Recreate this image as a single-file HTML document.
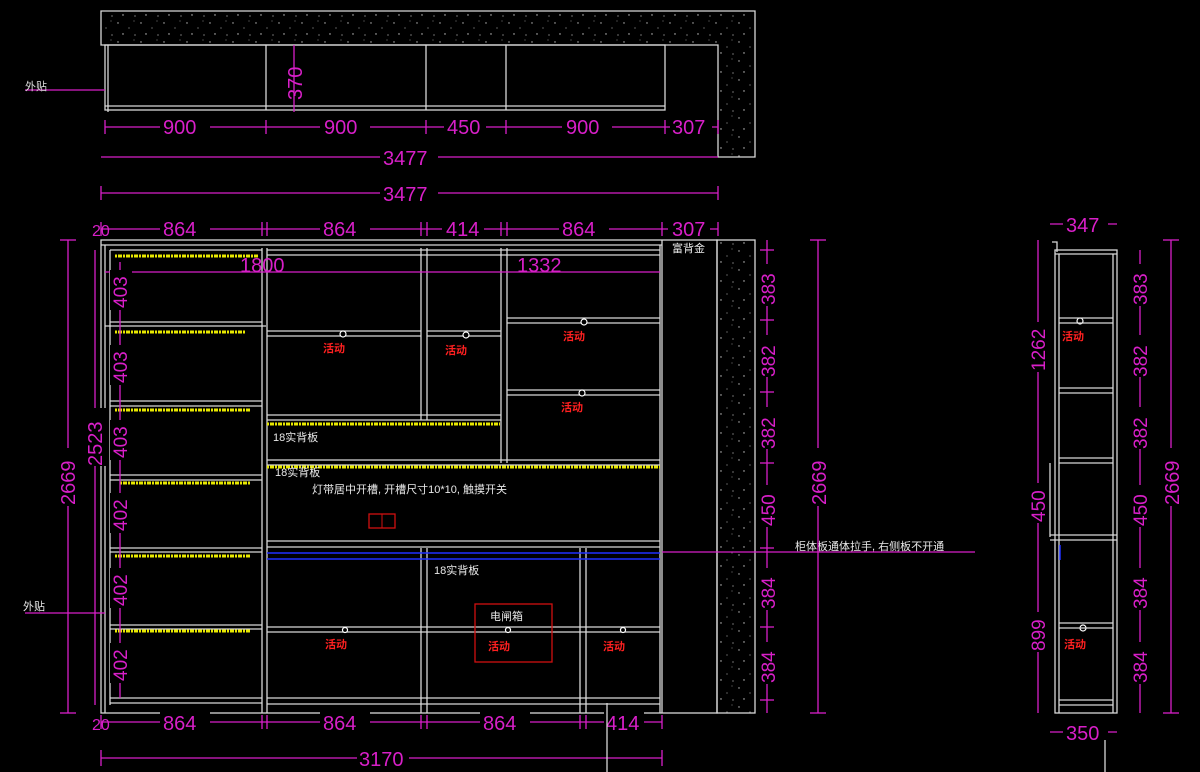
<!DOCTYPE html>
<html><head><meta charset="utf-8"><style>
html,body{margin:0;padding:0;background:#000;width:1200px;height:772px;overflow:hidden}
svg{display:block}
.w{stroke:#d8d8d8;stroke-width:1.3;fill:none}
.m{stroke:#d81fc8;stroke-width:1.3;fill:none}
.d{fill:#d81fc8;font-family:"Liberation Sans",sans-serif;font-size:20px}
.t{fill:#e8e8e8;font-family:"Liberation Sans","Noto Sans CJK SC",sans-serif;font-size:11px}
.r{fill:#ff2020;font-family:"Liberation Sans","Noto Sans CJK SC",sans-serif;font-size:11px;font-weight:bold}
.y{stroke:#e8e800;stroke-width:3;stroke-dasharray:2 1 4 1;fill:none}
.b{stroke:#2030ff;stroke-width:1.5}
</style></head><body>
<svg width="1200" height="772" viewBox="0 0 1200 772" xmlns="http://www.w3.org/2000/svg">
<defs>
<pattern id="sp" width="23" height="19" patternUnits="userSpaceOnUse">
<rect width="23" height="19" fill="#000"/>
<circle cx="3" cy="4" r="0.7" fill="#bbb"/><circle cx="14" cy="9" r="0.6" fill="#999"/>
<circle cx="8" cy="15" r="0.7" fill="#ccc"/><circle cx="19" cy="2" r="0.5" fill="#aaa"/>
<circle cx="20" cy="16" r="0.6" fill="#bbb"/>
</pattern>
</defs>

<!-- ===== TOP PLAN ===== -->
<path d="M101,11 H755 V157 H718 V45 H101 Z" fill="url(#sp)" stroke="#d8d8d8" stroke-width="1.3"/>
<rect x="105" y="45" width="560" height="65" class="w"/>
<line x1="108" y1="45" x2="108" y2="112" class="w"/>
<line x1="105" y1="106" x2="665" y2="106" class="w"/>
<line x1="266" y1="45" x2="266" y2="110" class="w"/>
<line x1="426" y1="45" x2="426" y2="110" class="w"/>
<line x1="506" y1="45" x2="506" y2="110" class="w"/>
<line x1="25" y1="90" x2="105" y2="90" class="m"/>
<text x="25" y="90" class="t" style="fill:#e0e0e0">外贴</text>
<line x1="294" y1="45" x2="294" y2="112" class="m"/>
<text class="d" transform="translate(302,100) rotate(-90)">370</text>
<line x1="105" y1="127" x2="718" y2="127" class="m"/>
<g class="m"><line x1="105" y1="120" x2="105" y2="134"/><line x1="266" y1="120" x2="266" y2="134"/><line x1="426" y1="120" x2="426" y2="134"/><line x1="506" y1="120" x2="506" y2="134"/><line x1="665" y1="120" x2="665" y2="134"/><line x1="718" y1="120" x2="718" y2="134"/></g>
<g class="d"><rect x="160" y="117" width="50" height="20" fill="#000"/><text x="163" y="134">900</text>
<rect x="320" y="117" width="50" height="20" fill="#000"/><text x="324" y="134">900</text>
<rect x="444" y="117" width="42" height="20" fill="#000"/><text x="447" y="134">450</text>
<rect x="562" y="117" width="50" height="20" fill="#000"/><text x="566" y="134">900</text>
<rect x="670" y="117" width="42" height="20" fill="#000"/><text x="672" y="134">307</text></g>
<line x1="101" y1="157" x2="718" y2="157" class="m"/>
<rect x="380" y="147" width="58" height="20" fill="#000"/><text x="383" y="165" class="d">3477</text>
<line x1="101" y1="193" x2="718" y2="193" class="m"/>
<line x1="101" y1="186" x2="101" y2="200" class="m"/><line x1="718" y1="186" x2="718" y2="200" class="m"/>
<rect x="380" y="183" width="58" height="20" fill="#000"/><text x="383" y="201" class="d">3477</text>

<!-- dim row 864 -->
<line x1="101" y1="229" x2="718" y2="229" class="m"/>
<g class="m"><line x1="101" y1="222" x2="101" y2="236"/><line x1="262" y1="222" x2="262" y2="236"/><line x1="267" y1="222" x2="267" y2="236"/><line x1="421" y1="222" x2="421" y2="236"/><line x1="427" y1="222" x2="427" y2="236"/><line x1="501" y1="222" x2="501" y2="236"/><line x1="507" y1="222" x2="507" y2="236"/><line x1="662" y1="222" x2="662" y2="236"/><line x1="718" y1="222" x2="718" y2="236"/></g>
<g class="d"><rect x="160" y="219" width="50" height="20" fill="#000"/><text x="163" y="236">864</text>
<rect x="320" y="219" width="50" height="20" fill="#000"/><text x="323" y="236">864</text>
<rect x="442" y="219" width="42" height="20" fill="#000"/><text x="446" y="236">414</text>
<rect x="559" y="219" width="50" height="20" fill="#000"/><text x="562" y="236">864</text>
<rect x="668" y="219" width="42" height="20" fill="#000"/><text x="672" y="236">307</text>
<text x="92" y="236" style="font-size:16px">20</text></g>

<!-- ===== MAIN ELEVATION ===== -->
<rect x="717" y="240" width="38" height="473" fill="url(#sp)" stroke="#d8d8d8" stroke-width="1.3"/>
<rect x="101" y="240" width="616" height="473" class="w"/>
<line x1="101" y1="245" x2="662" y2="245" class="w"/>
<g class="w">
<line x1="105" y1="245" x2="105" y2="713"/><line x1="110" y1="250" x2="110" y2="705"/>
<line x1="262" y1="248" x2="262" y2="713"/><line x1="267" y1="248" x2="267" y2="713"/>
<line x1="421" y1="248" x2="421" y2="420"/><line x1="427" y1="248" x2="427" y2="420"/>
<line x1="501" y1="248" x2="501" y2="463"/><line x1="507" y1="248" x2="507" y2="463"/>
<line x1="421" y1="548" x2="421" y2="713"/><line x1="427" y1="548" x2="427" y2="713"/>
<line x1="580" y1="548" x2="580" y2="713"/><line x1="586" y1="548" x2="586" y2="713"/>
<line x1="660" y1="245" x2="660" y2="713"/><line x1="662" y1="240" x2="662" y2="713"/>
<!-- left col shelves -->
<path d="M110,250H262M110,322H262M105,326H266M110,401H262M110,406H262M110,475H262M110,480H262M110,548H262M110,552H262M110,625H262M110,629H262M110,698H262M110,703H262"/>
<!-- middle top -->
<path d="M267,250H660M267,255H660M267,331H421M267,336H421M427,331H501M427,336H501M267,415H501M267,420H501M507,318H660M507,323H660M507,390H660M507,395H660M267,460H660M267,465H660"/>
<!-- lower -->
<path d="M267,541H660M267,547H660M267,627H660M267,632H660M267,698H660M267,704H660"/>
</g>
<line x1="267" y1="553" x2="660" y2="553" class="b"/><line x1="267" y1="559" x2="660" y2="559" class="b"/>
<g class="y">
<line x1="115" y1="256" x2="258" y2="256"/><line x1="115" y1="332" x2="245" y2="332"/><line x1="115" y1="410" x2="250" y2="410"/>
<line x1="120" y1="483" x2="250" y2="483"/><line x1="115" y1="556" x2="250" y2="556"/><line x1="115" y1="631" x2="250" y2="631"/>
<line x1="267" y1="424" x2="500" y2="424"/><line x1="267" y1="467" x2="660" y2="467"/>
</g>
<!-- knobs -->
<g fill="#000" stroke="#fff" stroke-width="1.2">
<circle cx="343" cy="334" r="3"/><circle cx="466" cy="335" r="3"/><circle cx="584" cy="322" r="3"/><circle cx="582" cy="393" r="3"/>
<circle cx="345" cy="630" r="2.5"/><circle cx="508" cy="630" r="2.5"/><circle cx="623" cy="630" r="2.5"/>
<circle cx="1080" cy="321" r="3"/><circle cx="1083" cy="628" r="3"/>
</g>
<g class="r"><text x="323" y="352">活动</text><text x="445" y="354">活动</text><text x="563" y="340">活动</text><text x="561" y="411">活动</text>
<text x="325" y="648">活动</text><text x="488" y="650">活动</text><text x="603" y="650">活动</text>
<text x="1062" y="340">活动</text><text x="1064" y="648">活动</text></g>
<rect x="475" y="604" width="77" height="58" fill="none" stroke="#d01010" stroke-width="1.3"/>
<rect x="369" y="514" width="26" height="14" fill="none" stroke="#d01010" stroke-width="1.3"/><line x1="382" y1="514" x2="382" y2="528" stroke="#d01010"/>
<g class="t"><text x="273" y="441">18实背板</text><text x="275" y="476">18实背板</text>
<text x="312" y="493">灯带居中开槽, 开槽尺寸10*10, 触摸开关</text>
<text x="434" y="574">18实背板</text><text x="490" y="620">电闸箱</text><text x="672" y="252">富背金</text>
<text x="795" y="550">柜体板通体拉手, 右侧板不开通</text></g>

<!-- inner dims 1800/1332 -->
<line x1="105" y1="272" x2="660" y2="272" class="m"/>
<text x="240" y="272" class="d">1800</text><text x="517" y="272" class="d">1332</text>
<!-- left vertical dims -->
<line x1="68" y1="240" x2="68" y2="713" class="m"/>
<line x1="60" y1="240" x2="76" y2="240" class="m"/><line x1="60" y1="713" x2="76" y2="713" class="m"/>
<rect x="56" y="448" width="24" height="58" fill="#000"/><text class="d" transform="translate(75,505) rotate(-90)">2669</text>
<line x1="95" y1="250" x2="95" y2="705" class="m"/>
<rect x="83" y="408" width="24" height="58" fill="#000"/><text class="d" transform="translate(102,466) rotate(-90)">2523</text>
<line x1="120" y1="262" x2="120" y2="698" class="m"/>
<g class="d" style="font-size:19px">
<rect x="110" y="270" width="22" height="40" fill="#000"/><text transform="translate(127,308) rotate(-90)">403</text>
<rect x="110" y="345" width="22" height="40" fill="#000"/><text transform="translate(127,383) rotate(-90)">403</text>
<rect x="110" y="420" width="22" height="40" fill="#000"/><text transform="translate(127,458) rotate(-90)">403</text>
<rect x="110" y="493" width="22" height="40" fill="#000"/><text transform="translate(127,531) rotate(-90)">402</text>
<rect x="110" y="568" width="22" height="40" fill="#000"/><text transform="translate(127,606) rotate(-90)">402</text>
<rect x="110" y="643" width="22" height="40" fill="#000"/><text transform="translate(127,681) rotate(-90)">402</text></g>
<line x1="25" y1="613" x2="105" y2="613" class="m"/><text x="23" y="610" class="t">外贴</text>
<!-- right vertical dims -->
<line x1="767" y1="240" x2="767" y2="713" class="m"/>
<g class="m"><line x1="760" y1="250" x2="774" y2="250"/><line x1="760" y1="320" x2="774" y2="320"/><line x1="760" y1="392" x2="774" y2="392"/><line x1="760" y1="463" x2="774" y2="463"/><line x1="760" y1="548" x2="774" y2="548"/><line x1="760" y1="627" x2="774" y2="627"/><line x1="760" y1="700" x2="774" y2="700"/></g>
<g class="d" style="font-size:19px">
<rect x="757" y="264" width="22" height="42" fill="#000"/><text transform="translate(775,305) rotate(-90)">383</text>
<rect x="757" y="335" width="22" height="42" fill="#000"/><text transform="translate(775,377) rotate(-90)">382</text>
<rect x="757" y="407" width="22" height="42" fill="#000"/><text transform="translate(775,449) rotate(-90)">382</text>
<rect x="757" y="485" width="22" height="42" fill="#000"/><text transform="translate(775,526) rotate(-90)">450</text>
<rect x="757" y="568" width="22" height="42" fill="#000"/><text transform="translate(775,609) rotate(-90)">384</text>
<rect x="757" y="642" width="22" height="42" fill="#000"/><text transform="translate(775,683) rotate(-90)">384</text>
</g>
<line x1="818" y1="240" x2="818" y2="713" class="m"/>
<line x1="810" y1="240" x2="826" y2="240" class="m"/><line x1="810" y1="713" x2="826" y2="713" class="m"/>
<rect x="806" y="448" width="24" height="58" fill="#000"/><text class="d" transform="translate(826,505) rotate(-90)">2669</text>
<line x1="662" y1="552" x2="975" y2="552" class="m"/>
<!-- bottom dims -->
<line x1="101" y1="722" x2="662" y2="722" class="m"/>
<g class="m"><line x1="101" y1="715" x2="101" y2="729"/><line x1="262" y1="715" x2="262" y2="729"/><line x1="267" y1="715" x2="267" y2="729"/><line x1="421" y1="715" x2="421" y2="729"/><line x1="427" y1="715" x2="427" y2="729"/><line x1="580" y1="715" x2="580" y2="729"/><line x1="586" y1="715" x2="586" y2="729"/><line x1="662" y1="715" x2="662" y2="729"/></g>
<g class="d"><rect x="160" y="712" width="50" height="20" fill="#000"/><text x="163" y="730">864</text>
<rect x="320" y="712" width="50" height="20" fill="#000"/><text x="323" y="730">864</text>
<rect x="480" y="712" width="50" height="20" fill="#000"/><text x="483" y="730">864</text>
<rect x="604" y="712" width="40" height="20" fill="#000"/><text x="606" y="730">414</text>
<text x="92" y="730" style="font-size:16px">20</text></g>
<line x1="101" y1="758" x2="662" y2="758" class="m"/>
<line x1="101" y1="750" x2="101" y2="766" class="m"/><line x1="662" y1="750" x2="662" y2="766" class="m"/>
<rect x="357" y="748" width="52" height="22" fill="#000"/><text x="359" y="766" class="d">3170</text>
<line x1="607" y1="703" x2="607" y2="772" class="w"/>

<!-- ===== SIDE VIEW ===== -->
<g class="w">
<path d="M1052,242H1057V252"/>
<rect x="1055" y="250" width="62" height="463"/>
<line x1="1059" y1="254" x2="1059" y2="713"/><line x1="1113" y1="254" x2="1113" y2="713"/>
<path d="M1055,254H1117M1059,318H1113M1059,323H1113M1059,388H1113M1059,393H1113M1059,458H1113M1059,463H1113M1050,535H1117M1050,540H1117M1059,623H1113M1059,628H1113M1059,700H1113M1059,705H1113"/>
<line x1="1050" y1="463" x2="1050" y2="537"/>
</g>
<line x1="1060" y1="545" x2="1060" y2="560" class="b"/>
<line x1="1050" y1="224" x2="1117" y2="224" class="m"/>
<rect x="1063" y="214" width="45" height="20" fill="#000"/><text x="1066" y="232" class="d">347</text>
<line x1="1050" y1="732" x2="1117" y2="732" class="m"/>
<rect x="1063" y="722" width="45" height="20" fill="#000"/><text x="1066" y="740" class="d">350</text>
<line x1="1038" y1="240" x2="1038" y2="713" class="m"/>
<g class="d" style="font-size:19px">
<rect x="1027" y="322" width="22" height="50" fill="#000"/><text transform="translate(1045,371) rotate(-90)">1262</text>
<rect x="1027" y="483" width="22" height="40" fill="#000"/><text transform="translate(1045,522) rotate(-90)">450</text>
<rect x="1027" y="612" width="22" height="40" fill="#000"/><text transform="translate(1045,651) rotate(-90)">899</text>
</g>
<line x1="1140" y1="250" x2="1140" y2="713" class="m"/>
<g class="d" style="font-size:19px">
<rect x="1129" y="264" width="22" height="42" fill="#000"/><text transform="translate(1147,305) rotate(-90)">383</text>
<rect x="1129" y="335" width="22" height="42" fill="#000"/><text transform="translate(1147,377) rotate(-90)">382</text>
<rect x="1129" y="407" width="22" height="42" fill="#000"/><text transform="translate(1147,449) rotate(-90)">382</text>
<rect x="1129" y="485" width="22" height="42" fill="#000"/><text transform="translate(1147,526) rotate(-90)">450</text>
<rect x="1129" y="568" width="22" height="42" fill="#000"/><text transform="translate(1147,609) rotate(-90)">384</text>
<rect x="1129" y="642" width="22" height="42" fill="#000"/><text transform="translate(1147,683) rotate(-90)">384</text>
</g>
<line x1="1171" y1="240" x2="1171" y2="713" class="m"/>
<line x1="1163" y1="240" x2="1179" y2="240" class="m"/><line x1="1163" y1="713" x2="1179" y2="713" class="m"/>
<rect x="1159" y="448" width="24" height="58" fill="#000"/><text class="d" transform="translate(1179,505) rotate(-90)">2669</text>
<line x1="1105" y1="740" x2="1105" y2="772" class="w"/>
</svg>
</body></html>
